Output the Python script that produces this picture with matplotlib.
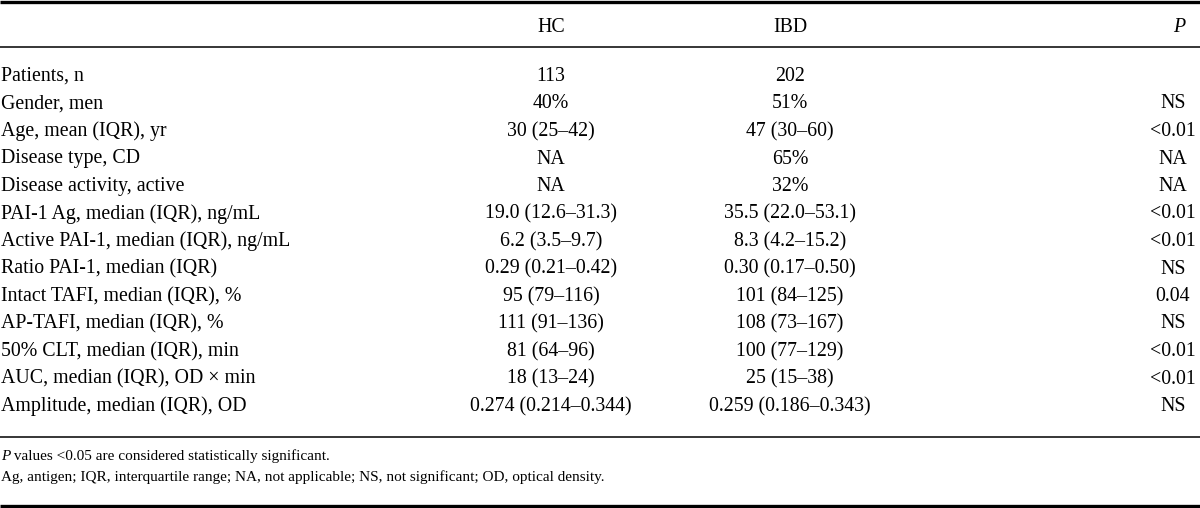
import matplotlib
import matplotlib.pyplot as plt

matplotlib.use("Agg")

plt.rcParams["font.family"] = ["Liberation Serif", "DejaVu Serif"]

columns = ["HC", "IBD", "P"]

row_labels = [
    "Patients, n",
    "Gender, men",
    "Age, mean (IQR), yr",
    "Disease type, CD",
    "Disease activity, active",
    "PAI-1 Ag, median (IQR), ng/mL",
    "Active PAI-1, median (IQR), ng/mL",
    "Ratio PAI-1, median (IQR)",
    "Intact TAFI, median (IQR), %",
    "AP-TAFI, median (IQR), %",
    "50% CLT, median (IQR), min",
    "AUC, median (IQR), OD \u00d7 min",
    "Amplitude, median (IQR), OD",
]

hc_values = [
    "113", "40%", "30 (25\u201342)", "NA", "NA",
    "19.0 (12.6\u201331.3)", "6.2 (3.5\u20139.7)", "0.29 (0.21\u20130.42)",
    "95 (79\u2013116)", "111 (91\u2013136)", "81 (64\u201396)",
    "18 (13\u201324)", "0.274 (0.214\u20130.344)",
]

ibd_values = [
    "202", "51%", "47 (30\u201360)", "65%", "32%",
    "35.5 (22.0\u201353.1)", "8.3 (4.2\u201315.2)", "0.30 (0.17\u20130.50)",
    "101 (84\u2013125)", "108 (73\u2013167)", "100 (77\u2013129)",
    "25 (15\u201338)", "0.259 (0.186\u20130.343)",
]

p_values = [
    "", "NS", "<0.01", "NA", "NA", "<0.01", "<0.01", "NS",
    "0.04", "NS", "<0.01", "<0.01", "NS",
]

footnote_p = " values <0.05 are considered statistically significant."
footnote_abbr = ("Ag, antigen; IQR, interquartile range; NA, not applicable; "
                 "NS, not significant; OD, optical density.")

W, H = 1200, 508
fig = plt.figure(figsize=(W / 100, H / 100), dpi=100)
ax = fig.add_axes([0, 0, 1, 1])
ax.set_xlim(0, W)
ax.set_ylim(H, 0)
ax.axis("off")

fs = 14.3
fn = 11
col_x = [551, 790, 1173]

# rules
ax.plot([0, W], [1.5, 1.5], color="black", lw=2.4, solid_capstyle="butt")
ax.plot([0, W], [47, 47], color="black", lw=1.1, solid_capstyle="butt")
ax.plot([0, W], [437, 437], color="black", lw=1.1, solid_capstyle="butt")
ax.plot([0, W], [505.5, 505.5], color="black", lw=2.4,
        solid_capstyle="butt")

# header
for x, name in zip(col_x, columns):
    if name == "P":
        ax.text(x + 6, 25, name, ha="center", va="center_baseline",
                fontsize=fs, style="italic")
    else:
        ax.text(x, 25, name, ha="center", va="center_baseline", fontsize=fs)

# body
y0, dy = 74, 27.5
for i, label in enumerate(row_labels):
    y = y0 + i * dy
    ax.text(1, y, label, ha="left", va="center_baseline", fontsize=fs)
    for x, col in zip(col_x, (hc_values, ibd_values, p_values)):
        ax.text(x, y, col[i], ha="center", va="center_baseline",
                fontsize=fs)

# footnotes
t = ax.text(1, 455, "P", ha="left", va="center_baseline", fontsize=fn,
            style="italic")
fig.canvas.draw()
bb = t.get_window_extent().transformed(ax.transData.inverted())
ax.text(bb.x1, 455, footnote_p, ha="left", va="center_baseline",
        fontsize=fn)
ax.text(1, 476, footnote_abbr, ha="left", va="center_baseline", fontsize=fn)

fig.savefig("out.png", dpi=100)
